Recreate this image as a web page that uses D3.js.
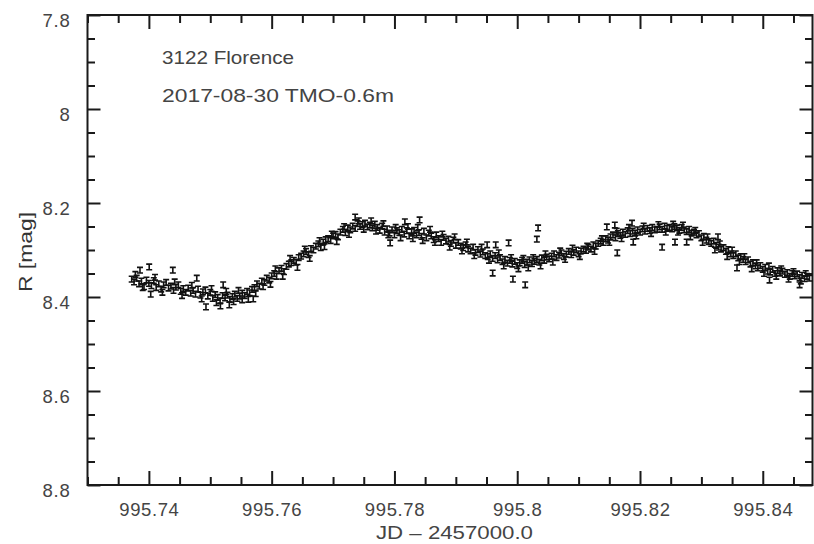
<!DOCTYPE html>
<html>
<head>
<meta charset="utf-8">
<script src="https://cdn.jsdelivr.net/npm/d3@7"></script>
<style>
  html, body { margin: 0; padding: 0; background: #fff; }
  svg { display: block; }
  text { font-family: "Liberation Sans", Arial, Helvetica, sans-serif; }
</style>
</head>
<body>
<svg id="chart" width="814" height="544"></svg>
<script>
// Light curve of (3122) Florence, R band, 2017-08-30
const titleLines = ["3122 Florence", "2017-08-30 TMO-0.6m"];
const xTitle = "JD \u2013 2457000.0";
const yTitle = "R [mag]";

const xTicks = [995.74, 995.76, 995.78, 995.80, 995.82, 995.84];
const xTickLabels = ["995.74", "995.76", "995.78", "995.8", "995.82", "995.84"];
const yTicks = [7.8, 8.0, 8.2, 8.4, 8.6, 8.8];
const yTickLabels = ["7.8", "8", "8.2", "8.4", "8.6", "8.8"];

// photometric error of each measurement (mag)
const magErr = 0.006;

// JD - 2457000.0
const jd = [
  995.73720, 995.73758, 995.73801, 995.73840, 995.73879, 995.73921, 995.73960, 995.74000,
  995.74041, 995.74080, 995.74119, 995.74161, 995.74200, 995.74240, 995.74281, 995.74320,
  995.74359, 995.74401, 995.74440, 995.74480, 995.74519, 995.74561, 995.74600,
  995.74640, 995.74681, 995.74720, 995.74759, 995.74801, 995.74840, 995.74880, 995.74921,
  995.74960, 995.75000, 995.75041, 995.75080, 995.75120, 995.75160, 995.75200,
  995.75241, 995.75280, 995.75320, 995.75361, 995.75400, 995.75440, 995.75480,
  995.75521, 995.75560, 995.75600, 995.75641, 995.75680,
  995.75720, 995.75761, 995.75800, 995.75840, 995.75881,
  995.75920, 995.75960, 995.76000, 995.76041, 995.76080,
  995.76120, 995.76160, 995.76201, 995.76240, 995.76280,
  995.76320, 995.76361, 995.76400, 995.76440, 995.76480,
  995.76520, 995.76560, 995.76601, 995.76640, 995.76680,
  995.76720, 995.76761, 995.76800, 995.76840, 995.76880,
  995.76920, 995.76960, 995.77001, 995.77040, 995.77080,
  995.77120, 995.77160, 995.77200, 995.77241, 995.77280,
  995.77320, 995.77360, 995.77400, 995.77440, 995.77481,
  995.77520, 995.77560, 995.77600, 995.77640, 995.77680,
  995.77721, 995.77760, 995.77800, 995.77840, 995.77880,
  995.77920, 995.77961, 995.78000, 995.78040, 995.78080,
  995.78120, 995.78160, 995.78201, 995.78240, 995.78280,
  995.78320, 995.78360, 995.78400, 995.78441, 995.78480,
  995.78520, 995.78560, 995.78600, 995.78640, 995.78681,
  995.78720, 995.78760, 995.78800, 995.78840, 995.78880,
  995.78920, 995.78960, 995.79001, 995.79040, 995.79080,
  995.79120, 995.79160, 995.79200, 995.79240, 995.79281,
  995.79320, 995.79360, 995.79400, 995.79440, 995.79480,
  995.79520, 995.79561, 995.79600, 995.79640, 995.79680,
  995.79720, 995.79760, 995.79800, 995.79841, 995.79880,
  995.79920, 995.79960, 995.80000, 995.80040, 995.80080,
  995.80121, 995.80160, 995.80200, 995.80240, 995.80280,
  995.80320, 995.80360, 995.80401, 995.80440, 995.80480,
  995.80520, 995.80560, 995.80600, 995.80640, 995.80681,
  995.80720, 995.80760, 995.80800, 995.80840, 995.80880,
  995.80920, 995.80961, 995.81000, 995.81040, 995.81080,
  995.81120, 995.81160, 995.81201, 995.81240, 995.81280,
  995.81320, 995.81360, 995.81400, 995.81441, 995.81480,
  995.81520, 995.81560, 995.81600, 995.81640, 995.81680,
  995.81721, 995.81760, 995.81800, 995.81840, 995.81880,
  995.81920, 995.81960, 995.82001, 995.82040, 995.82080,
  995.82120, 995.82160, 995.82200, 995.82241, 995.82280,
  995.82320, 995.82360, 995.82400, 995.82440, 995.82480,
  995.82521, 995.82560, 995.82600, 995.82640, 995.82680,
  995.82720, 995.82760, 995.82800, 995.82841, 995.82880,
  995.82920, 995.82960, 995.83000, 995.83040, 995.83081,
  995.83120, 995.83160, 995.83200, 995.83240, 995.83280,
  995.83321, 995.83360, 995.83400, 995.83440, 995.83480,
  995.83520, 995.83560, 995.83601, 995.83640, 995.83680,
  995.83720, 995.83760, 995.83800, 995.83840, 995.83881,
  995.83920, 995.83960, 995.84000, 995.84040, 995.84080,
  995.84121, 995.84160, 995.84200, 995.84240, 995.84280,
  995.84320, 995.84360, 995.84400, 995.84440, 995.84481,
  995.84520, 995.84560, 995.84600, 995.84640, 995.84680, 995.84720, 995.84760,
  // further measurements in the same run
  995.73780, 995.73900, 995.74100, 995.74220, 995.74420, 995.74540, 995.74700, 995.74860,
  995.75020, 995.75100, 995.75260, 995.75380, 995.75460, 995.75620, 995.75740, 995.75860,
  995.75980, 995.76060, 995.76180, 995.76300, 995.76420, 995.76540, 995.76620, 995.76780,
  995.76860, 995.76980, 995.77060, 995.77180, 995.77260, 995.77420, 995.77500, 995.77620,
  995.77700, 995.77820, 995.77900, 995.78020, 995.78100, 995.78220, 995.78300, 995.78380,
  995.78460, 995.78580, 995.78660, 995.78780, 995.78900, 995.78980, 995.79100, 995.79180,
  995.79300, 995.79420, 995.79540, 995.79700, 995.79780, 995.79900, 995.80020, 995.80100,
  995.80180, 995.80260, 995.80380, 995.80460, 995.80580, 995.80700, 995.80780, 995.80900,
  995.81020, 995.81140, 995.81260, 995.81380, 995.81500, 995.81620, 995.81700, 995.81820,
  995.81940, 995.82060, 995.82180, 995.82300, 995.82420, 995.82540, 995.82620, 995.82700,
  995.82820, 995.82900, 995.83020, 995.83100, 995.83220, 995.83300, 995.83420, 995.83500,
  995.83620, 995.83700, 995.83820, 995.83900, 995.84020, 995.84100, 995.84220, 995.84300,
  995.84420, 995.84500, 995.84620, 995.84700,
  // outlying measurements
  995.73855, 995.74005, 995.74390, 995.74030, 995.74780, 995.74930, 995.75165, 995.75310,
  995.75210, 995.75520, 995.75700, 995.77360, 995.78170, 995.78410, 995.77930, 995.79600,
  995.79930, 995.80130, 995.80340, 995.80320, 995.79510, 995.79650, 995.79860, 995.81460,
  995.81590, 995.81630, 995.81870, 995.81890, 995.82570, 995.82760, 995.82360, 995.83270,
  995.83580, 995.84600, 995.84110
];

// R magnitude
const rMag = [
  8.362, 8.368, 8.360, 8.372, 8.366, 8.378, 8.364, 8.371,
  8.376, 8.365, 8.380, 8.372, 8.383, 8.374, 8.369, 8.381,
  8.377, 8.386, 8.379, 8.374, 8.388, 8.382, 8.390,
  8.381, 8.392, 8.386, 8.394, 8.383, 8.396, 8.389, 8.385,
  8.398, 8.390, 8.403, 8.395, 8.401, 8.408, 8.397,
  8.402, 8.396, 8.405, 8.399, 8.394, 8.403, 8.398,
  8.392, 8.397, 8.388, 8.391, 8.384,
  8.380, 8.372, 8.377, 8.366, 8.369,
  8.360, 8.364, 8.355, 8.350, 8.356,
  8.344, 8.339, 8.346, 8.335, 8.330,
  8.327, 8.322, 8.326, 8.316, 8.313,
  8.308, 8.303, 8.310, 8.297, 8.300,
  8.292, 8.287, 8.295, 8.283, 8.278,
  8.276, 8.280, 8.270, 8.267, 8.272,
  8.262, 8.256, 8.263, 8.253, 8.257,
  8.249, 8.254, 8.244, 8.250, 8.246,
  8.243, 8.251, 8.247, 8.253, 8.245,
  8.252, 8.258, 8.249, 8.262, 8.255,
  8.264, 8.257, 8.268, 8.259, 8.263,
  8.256, 8.266, 8.259, 8.270, 8.261,
  8.258, 8.268, 8.263, 8.271, 8.260,
  8.274, 8.264, 8.270, 8.278, 8.268,
  8.276, 8.284, 8.273, 8.281, 8.277,
  8.286, 8.279, 8.290, 8.284, 8.292,
  8.295, 8.289, 8.298, 8.302, 8.294,
  8.305, 8.299, 8.309, 8.304, 8.312,
  8.314, 8.308, 8.318, 8.312, 8.321,
  8.316, 8.325, 8.320, 8.328, 8.322,
  8.330, 8.324, 8.333, 8.327, 8.322,
  8.331, 8.326, 8.321, 8.329, 8.324,
  8.320, 8.326, 8.317, 8.322, 8.315,
  8.319, 8.313, 8.308, 8.316, 8.311,
  8.306, 8.314, 8.309, 8.303, 8.310,
  8.305, 8.300, 8.308, 8.302, 8.298,
  8.301, 8.294, 8.298, 8.289, 8.292,
  8.286, 8.281, 8.284, 8.276, 8.279,
  8.272, 8.268, 8.274, 8.265, 8.269,
  8.262, 8.267, 8.259, 8.265, 8.260,
  8.264, 8.257, 8.262, 8.255, 8.260,
  8.254, 8.259, 8.252, 8.257, 8.256,
  8.251, 8.256, 8.249, 8.254, 8.252,
  8.255, 8.250, 8.253, 8.258, 8.252,
  8.257, 8.261, 8.256, 8.264, 8.262,
  8.268, 8.265, 8.274, 8.271, 8.279,
  8.282, 8.286, 8.281, 8.290, 8.294,
  8.298, 8.295, 8.303, 8.299, 8.308,
  8.312, 8.308, 8.317, 8.314, 8.320,
  8.325, 8.321, 8.330, 8.327, 8.334,
  8.338, 8.333, 8.341, 8.337, 8.345,
  8.347, 8.341, 8.350, 8.344, 8.349,
  8.345, 8.352, 8.348, 8.356, 8.350,
  8.355, 8.351, 8.359, 8.354, 8.361, 8.356, 8.360,
  // further measurements in the same run
  8.352, 8.380, 8.358, 8.390, 8.368, 8.397, 8.375, 8.404,
  8.382, 8.412, 8.388, 8.410, 8.386, 8.405, 8.393, 8.378,
  8.373, 8.340, 8.356, 8.318, 8.337, 8.298, 8.318, 8.280,
  8.293, 8.266, 8.282, 8.250, 8.267, 8.238, 8.256, 8.238,
  8.260, 8.244, 8.268, 8.252, 8.274, 8.250, 8.276, 8.252,
  8.280, 8.256, 8.284, 8.266, 8.294, 8.272, 8.302, 8.283,
  8.312, 8.294, 8.322, 8.306, 8.334, 8.316, 8.340, 8.318,
  8.338, 8.316, 8.334, 8.308, 8.326, 8.302, 8.320, 8.296,
  8.314, 8.292, 8.303, 8.276, 8.284, 8.260, 8.276, 8.252,
  8.270, 8.249, 8.265, 8.246, 8.262, 8.245, 8.262, 8.247,
  8.272, 8.258, 8.284, 8.272, 8.300, 8.287, 8.314, 8.300,
  8.325, 8.314, 8.340, 8.327, 8.350, 8.334, 8.356, 8.340,
  8.362, 8.346, 8.366, 8.350,
  // outlying measurements
  8.343, 8.336, 8.343, 8.394, 8.360, 8.421, 8.419, 8.417,
  8.374, 8.406, 8.404, 8.230, 8.240, 8.236, 8.285, 8.349,
  8.362, 8.374, 8.253, 8.277, 8.289, 8.289, 8.285, 8.251,
  8.247, 8.306, 8.243, 8.283, 8.283, 8.283, 8.294, 8.272,
  8.338, 8.374, 8.364
];

const svg = d3.select("#chart");
const plot = { left: 87.5, right: 812.5, top: 15, bottom: 485 };

const x = d3.scaleLinear().domain([995.73, 995.8481]).range([plot.left, plot.right]);
const y = d3.scaleLinear().domain([7.8, 8.8]).range([plot.top, plot.bottom]);

const isMajor = (v, majors) => majors.some(m => Math.abs(m - v) < 1e-7);
const xMinor = d3.range(995.730, 995.8481, 0.005).filter(v => !isMajor(v, xTicks));
const yMinor = d3.range(7.8, 8.8001, 0.05).filter(v => !isMajor(v, yTicks));

const axisColor = "#1a1a1a";
const labelColor = "#444";

function styleAxis(g) {
  g.select(".domain").remove();
  g.selectAll(".tick line").attr("stroke", axisColor).attr("stroke-width", 2);
}

// bottom axis (inward ticks + labels)
const gBottom = svg.append("g").attr("transform", `translate(0,${plot.bottom})`);
gBottom.call(d3.axisBottom(x).tickValues(xTicks).tickSize(-14).tickPadding(18)
  .tickFormat((d, i) => xTickLabels[i]));
gBottom.call(styleAxis);
gBottom.selectAll(".tick text").attr("fill", labelColor).attr("font-size", "18.5px")
  .attr("letter-spacing", "0.6px").attr("dy", "0.71em");
svg.append("g").attr("transform", `translate(0,${plot.bottom})`)
  .call(d3.axisBottom(x).tickValues(xMinor).tickSize(-8).tickFormat(""))
  .call(styleAxis);

// top axis (ticks only)
svg.append("g").attr("transform", `translate(0,${plot.top})`)
  .call(d3.axisTop(x).tickValues(xTicks).tickSize(-14).tickFormat(""))
  .call(styleAxis);
svg.append("g").attr("transform", `translate(0,${plot.top})`)
  .call(d3.axisTop(x).tickValues(xMinor).tickSize(-8).tickFormat(""))
  .call(styleAxis);

// left axis (inward ticks + labels)
const gLeft = svg.append("g").attr("transform", `translate(${plot.left},0)`);
gLeft.call(d3.axisLeft(y).tickValues(yTicks).tickSize(-13).tickPadding(17)
  .tickFormat((d, i) => yTickLabels[i]));
gLeft.call(styleAxis);
gLeft.selectAll(".tick text").attr("fill", labelColor).attr("font-size", "18.5px")
  .attr("letter-spacing", "0.8px").attr("dy", "11px");
svg.append("g").attr("transform", `translate(${plot.left},0)`)
  .call(d3.axisLeft(y).tickValues(yMinor).tickSize(-7.5).tickFormat(""))
  .call(styleAxis);

// right axis (ticks only)
svg.append("g").attr("transform", `translate(${plot.right},0)`)
  .call(d3.axisRight(y).tickValues(yTicks).tickSize(-13).tickFormat(""))
  .call(styleAxis);
svg.append("g").attr("transform", `translate(${plot.right},0)`)
  .call(d3.axisRight(y).tickValues(yMinor).tickSize(-7.5).tickFormat(""))
  .call(styleAxis);

// frame
svg.append("rect")
  .attr("x", plot.left).attr("y", plot.top)
  .attr("width", plot.right - plot.left).attr("height", plot.bottom - plot.top)
  .attr("fill", "none").attr("stroke", axisColor).attr("stroke-width", 2);

// measurements with error bars
const points = jd.map((t, i) => ({ t, m: rMag[i] }));
const cap = 3;
svg.append("g").attr("class", "points")
  .selectAll("path").data(points).join("path")
  .attr("d", d => {
    const cx = x(d.t), y1 = y(d.m - magErr), y2 = y(d.m + magErr);
    return `M${cx},${y1}V${y2}M${cx - cap},${y1}H${cx + cap}M${cx - cap},${y2}H${cx + cap}`;
  })
  .attr("fill", "none").attr("stroke", "#111").attr("stroke-width", 1.6);

// annotation
svg.append("text").attr("x", 162).attr("y", 64.3)
  .attr("font-size", "18.5px").attr("fill", labelColor)
  .attr("textLength", 132).attr("lengthAdjust", "spacingAndGlyphs")
  .text(titleLines[0]);
svg.append("text").attr("x", 162).attr("y", 101.7)
  .attr("font-size", "18.5px").attr("fill", labelColor)
  .attr("textLength", 232).attr("lengthAdjust", "spacingAndGlyphs")
  .text(titleLines[1]);

// axis titles
svg.append("text").attr("x", 376).attr("y", 539)
  .attr("font-size", "18px").attr("fill", labelColor)
  .attr("textLength", 157).attr("lengthAdjust", "spacingAndGlyphs")
  .text(xTitle);
svg.append("text")
  .attr("transform", "translate(32,252) rotate(-90)")
  .attr("text-anchor", "middle")
  .attr("font-size", "18px").attr("fill", "#333")
  .attr("textLength", 80).attr("lengthAdjust", "spacingAndGlyphs")
  .text(yTitle);
</script>
</body>
</html>
